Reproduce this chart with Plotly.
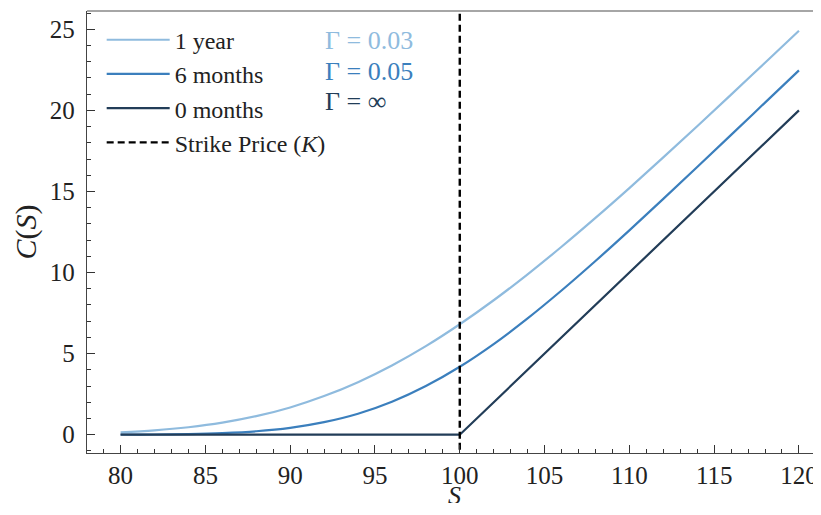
import plotly.graph_objects as go

# Data
S_values = [80, 82, 84, 86, 88, 90, 92, 94, 96, 98, 100, 102, 104, 106, 108, 110, 112, 114, 116, 118, 120]
call_1year = [0.15, 0.27, 0.46, 0.74, 1.14, 1.68, 2.38, 3.24, 4.27, 5.46, 6.81, 8.29, 9.89, 11.59, 13.37, 15.21, 17.10, 19.02, 20.97, 22.94, 24.91]
call_6months = [0.01, 0.01, 0.04, 0.10, 0.21, 0.42, 0.77, 1.29, 2.03, 3.00, 4.19, 5.59, 7.17, 8.89, 10.71, 12.60, 14.54, 16.51, 18.49, 20.48, 22.47]
S_expiry = [80, 100, 120]
call_0months = [0, 0, 20]
strike_price = 100

series_names = ["1 year", "6 months", "0 months"]
gamma_labels = ["Γ = 0.03", "Γ = 0.05", "Γ = ∞"]
colors = ["#8fbbde", "#3b7fbd", "#223d58"]

x_ticks = [80, 85, 90, 95, 100, 105, 110, 115, 120]
y_ticks = [0, 5, 10, 15, 20, 25]

FONT = "Liberation Serif"

fig = go.Figure()
fig.add_trace(go.Scatter(x=S_values, y=call_1year, mode="lines", name=series_names[0],
                         line=dict(color=colors[0], width=2.2, shape="spline")))
fig.add_trace(go.Scatter(x=S_values, y=call_6months, mode="lines", name=series_names[1],
                         line=dict(color=colors[1], width=2.2, shape="spline")))
fig.add_trace(go.Scatter(x=S_expiry, y=call_0months, mode="lines", name=series_names[2],
                         line=dict(color=colors[2], width=2.2)))
fig.add_trace(go.Scatter(x=[strike_price, strike_price], y=[-5, 40], mode="lines",
                         name="Strike Price (<i>K</i>)",
                         line=dict(color="black", width=2.4, dash="7px,4px")))

for i, (lab, col) in enumerate(zip(gamma_labels, colors)):
    fig.add_annotation(xref="paper", yref="paper", x=0.321, y=[0.934, 0.862, 0.796][i],
                       text=lab, showarrow=False, xanchor="left", yanchor="middle",
                       font=dict(family=FONT, size=26, color=col))

# x-axis label placed as text just under the tick labels
fig.add_annotation(xref="paper", yref="paper", x=0.5, y=-0.0958, text="<i>S</i>",
                   showarrow=False, xanchor="center", yanchor="middle",
                   font=dict(family=FONT, size=26, color="#222"))

# The page body adds an 8px margin on every side; the figure is sized so the page
# does not overflow the window and the plot area lands at x 87..821, y 11..453.
fig.update_layout(
    width=813, height=495,
    margin=dict(l=79, r=0, t=3, b=50, autoexpand=False),
    paper_bgcolor="white", plot_bgcolor="white",
    font=dict(family=FONT, size=24, color="#222"),
    showlegend=True,
    legend=dict(x=0.02, y=0.985, xanchor="left", yanchor="top",
                bgcolor="rgba(255,255,255,0)", font=dict(family=FONT, size=24, color="#222"),
                tracegroupgap=0, itemwidth=63),
    xaxis=dict(range=[78.02, 121.30], tickvals=x_ticks, ticks="inside", ticklen=8,
               tickwidth=1.2, tickcolor="#333", showgrid=False, zeroline=False,
               showline=True, linecolor="#444", linewidth=1.3, mirror=False, automargin=False,
               minor=dict(ticks="inside", ticklen=4, dtick=1, tickcolor="#333", tickwidth=1),
               tickfont=dict(family=FONT, size=25, color="#222")),
    yaxis=dict(range=[-1.13, 26.13], tickvals=y_ticks, ticks="inside", ticklen=8,
               tickwidth=1.2, tickcolor="#333", showgrid=False, zeroline=False,
               showline=True, linecolor="#444", linewidth=1.3, automargin=False,
               ticklabelstandoff=6,
               minor=dict(ticks="inside", ticklen=4, dtick=1, tickcolor="#333", tickwidth=1),
               title=dict(text="<i>C</i>(<i>S</i>)", font=dict(family=FONT, size=30), standoff=4),
               tickfont=dict(family=FONT, size=25, color="#222")),
)
# top spine
fig.add_shape(type="line", xref="paper", yref="paper", x0=0, x1=1, y0=1, y1=1,
              line=dict(color="#888", width=1.3))

fig.write_html("out.html")
